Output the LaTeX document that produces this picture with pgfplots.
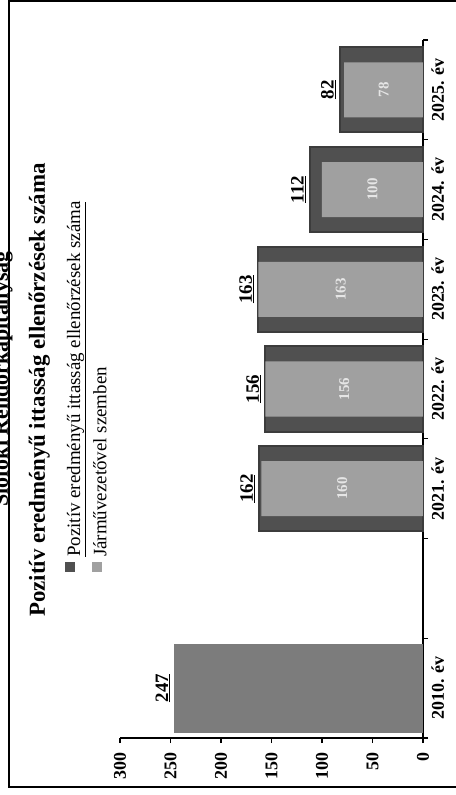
\documentclass[border=0pt]{standalone}
\usepackage{graphicx}
\usepackage{fontspec}
\setmainfont{Liberation Serif}
\usepackage{pgfplots}
\pgfplotsset{compat=1.18}

\definecolor{outerbar}{HTML}{505050}
\definecolor{outeredge}{HTML}{3C3C3C}
\definecolor{innerbar}{HTML}{A0A0A0}
\definecolor{firstbar}{HTML}{7C7C7C}

\pgfplotsset{
  sq legend/.style={legend image code/.code={\fill[##1,draw=none] (0bp,-1bp) rectangle (10bp,9bp);}},
}

\begin{document}
\rotatebox{90}{%
\begin{tikzpicture}
\path[use as bounding box] (0,0) rectangle (795bp,456bp);
% frame and headings
\draw[line width=2.5bp] (8bp,-20bp) -- (8bp,447bp) -- (794bp,447bp) -- (794bp,-20bp);
\node[anchor=base, font=\bfseries\fontsize{22}{22}\selectfont] at (416bp,448bp) {Siófoki Rendőrkapitányság};
\node[anchor=base, font=\bfseries\fontsize{23}{23}\selectfont] at (405bp,411bp) {Pozitív eredményű ittasság ellenőrzések száma};
\begin{axis}[
  at={(57bp,33bp)}, anchor=south west,
  scale only axis, width=698bp, height=303bp,
  xmin=-0.5, xmax=6.5, ymin=0, ymax=300,
  enlargelimits=false, clip=false,
  ybar, bar shift=0pt,
  axis x line*=bottom, axis y line*=left,
  axis line style={line width=1.2bp, -},
  tick align=outside, major tick length=5bp,
  tick style={line width=1.2bp, black},
  xtick={-0.5,0.5,...,6.5}, xticklabels={},
  extra x ticks={0,2,3,4,5,6},
  extra x tick labels={2010. év,2021. év,2022. év,2023. év,2024. év,2025. év},
  extra x tick style={major tick length=0pt},
  ytick={0,50,...,300},
  /pgf/number format/assume math mode=true,
  ticklabel style={font=\bfseries\fontsize{18}{18}\selectfont},
  xticklabel style={yshift=-5bp},
  yticklabel style={xshift=-6bp},
  legend cell align=left,
  legend style={at={(0.2378,1.1815)}, anchor=north west, draw=none, fill=none,
    inner sep=0pt, row sep=10bp, nodes={inner sep=0pt},
    /tikz/every odd column/.append style={column sep=5bp},
    font=\fontsize{19}{19}\selectfont},
]
% all checks, outer bars
\addplot[ybar, bar shift=0pt, bar width=85bp, fill=outerbar, draw=outeredge, line width=2bp,
  nodes near coords={\underline{\pgfmathprintnumber{\pgfplotspointmeta}}},
  nodes near coords style={font=\bfseries\fontsize{19}{19}\selectfont, text=black},
  sq legend]
  coordinates {(2,162) (3,156) (4,163) (5,112) (6,82)};
\addlegendentry{\underline{Pozitív eredményű ittasság ellenőrzések száma}}
% drivers, inner bars
\addplot[ybar, bar shift=0pt, bar width=55bp, fill=innerbar, draw=none,
  visualization depends on=y \as \rawy,
  nodes near coords,
  nodes near coords style={font=\bfseries\fontsize{15}{15}\selectfont, text=white!90!black,
    anchor=center, shift={(axis direction cs:0,-\rawy/2)}},
  sq legend]
  coordinates {(2,160) (3,156) (4,163) (5,100) (6,78)};
\addlegendentry{Járművezetővel szemben}
% 2010
\addplot[ybar, bar shift=0pt, bar width=89bp, fill=firstbar, draw=none, forget plot,
  nodes near coords={\underline{\pgfmathprintnumber{\pgfplotspointmeta}}},
  nodes near coords style={font=\bfseries\fontsize{19}{19}\selectfont, text=black}]
  coordinates {(0,247)};
\end{axis}
\end{tikzpicture}}
\end{document}
